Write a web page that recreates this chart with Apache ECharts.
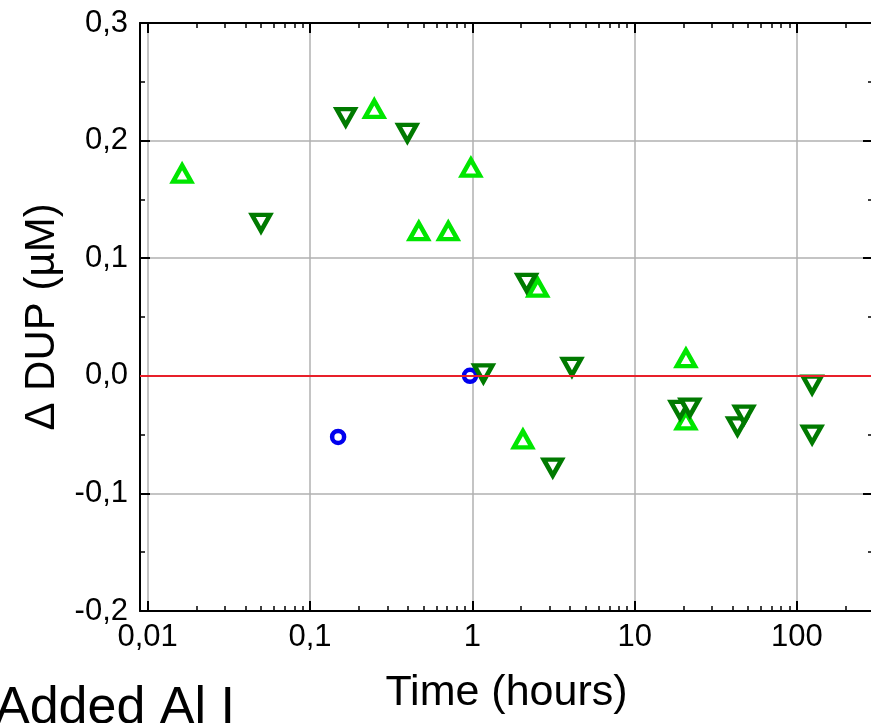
<!DOCTYPE html>
<html>
<head>
<meta charset="utf-8">
<script src="https://cdn.jsdelivr.net/npm/echarts@6/dist/echarts.min.js"></script>
<style>
  html, body { margin: 0; padding: 0; background: #ffffff; }
  #chart { width: 871px; height: 723px; }
</style>
</head>
<body>
<div id="chart"></div>
<script>
// Time after addition (hours) and change in DUP (µM) for each group
const upTimes    = [0.0163, 0.249, 0.468, 0.711, 0.98, 2.05, 2.53, 20.7, 20.7];
const upValues   = [0.172, 0.227, 0.123, 0.123, 0.177, -0.054, 0.075, 0.015, -0.038];

const downTimes  = [0.0499, 0.166, 0.398, 1.17, 2.16, 3.13, 4.11, 19.0, 21.9, 43.0, 47.2, 124, 124];
const downValues = [0.130, 0.220, 0.2065, 0.002, 0.079, -0.078, 0.0075, -0.029, -0.027, -0.043, -0.033, -0.0076, -0.050];

const circleTimes  = [0.149, 0.968];
const circleValues = [-0.052, 0.0];

// Axis ticks and their printed labels (decimal comma)
const xTickValues = [0.01, 0.1, 1, 10, 100];
const xTickLabels = ['0,01', '0,1', '1', '10', '100'];
const yTickValues = [-0.2, -0.1, 0.0, 0.1, 0.2, 0.3];
const yTickLabels = ['-0,2', '-0,1', '0,0', '0,1', '0,2', '0,3'];

const referenceLevel = 0;

const xMin = 0.00897, xMax = 294;
const yMin = -0.2, yMax = 0.3;

const FONT = "'Liberation Sans', Arial, sans-serif";

function pairs(xs, ys) { return xs.map((x, i) => [x, ys[i]]); }

function xLabel(v) {
  for (let i = 0; i < xTickValues.length; i++) {
    if (Math.abs(Math.log10(v) - Math.log10(xTickValues[i])) < 1e-6) return xTickLabels[i];
  }
  return '';
}
function yLabel(v) {
  for (let i = 0; i < yTickValues.length; i++) {
    if (Math.abs(v - yTickValues[i]) < 1e-9) return yTickLabels[i];
  }
  return '';
}

const axisLine = { show: true, onZero: false, lineStyle: { color: '#000', width: 2 } };
const majorTick = { show: true, inside: true, length: 10, lineStyle: { color: '#000', width: 2 } };
const minorTick = (n) => ({ show: true, splitNumber: n, length: 5, lineStyle: { color: '#000', width: 1.5 } });
const grid = { show: true, lineStyle: { color: '#b0b0b0', width: 1.5 } };

const chart = echarts.init(document.getElementById('chart'), null, { renderer: 'canvas' });

chart.setOption({
  animation: false,
  backgroundColor: '#ffffff',
  grid: {
    left: 140, top: 23, width: 733, height: 588,
    containLabel: false,
    outerBoundsMode: 'none'
  },
  xAxis: [
    {
      type: 'log', logBase: 10, min: xMin, max: xMax, position: 'bottom',
      axisLine: axisLine, axisTick: majorTick, minorTick: minorTick(9),
      splitLine: grid,
      axisLabel: { formatter: xLabel, fontFamily: FONT, fontSize: 31, color: '#000', margin: 11,
                   showMinLabel: true, showMaxLabel: true, hideOverlap: false },
      name: 'Time (hours)', nameLocation: 'middle', nameGap: 61,
      nameTextStyle: { fontFamily: FONT, fontSize: 43, color: '#000' }
    },
    {
      type: 'log', logBase: 10, min: xMin, max: xMax, position: 'top',
      axisLine: axisLine, axisTick: majorTick, minorTick: minorTick(9),
      splitLine: { show: false }, axisLabel: { show: false }
    }
  ],
  yAxis: [
    {
      type: 'value', min: yMin, max: yMax, interval: 0.1, position: 'left',
      axisLine: axisLine, axisTick: majorTick, minorTick: minorTick(2),
      splitLine: grid,
      axisLabel: { formatter: yLabel, fontFamily: FONT, fontSize: 31, color: '#000', margin: 12 },
      name: 'Δ DUP (µM)', nameLocation: 'middle', nameGap: 76,
      nameTextStyle: { fontFamily: FONT, fontSize: 42, color: '#000' }
    },
    {
      type: 'value', min: yMin, max: yMax, interval: 0.1, position: 'right',
      axisLine: axisLine, axisTick: majorTick, minorTick: minorTick(2),
      splitLine: { show: false }, axisLabel: { show: false }
    }
  ],
  series: [
    {
      type: 'scatter', name: 'circles', data: pairs(circleTimes, circleValues),
      symbol: 'circle', symbolSize: 12, z: 3,
      itemStyle: { color: '#ffffff', borderColor: '#0000ee', borderWidth: 4.5, opacity: 1 }
    },
    {
      type: 'scatter', name: 'up', data: pairs(upTimes, upValues),
      symbol: 'triangle', symbolSize: [18, 16], z: 4,
      itemStyle: { color: '#ffffff', borderColor: '#00e600', borderWidth: 4.5, opacity: 1 }
    },
    {
      type: 'scatter', name: 'down', data: pairs(downTimes, downValues),
      symbol: 'triangle', symbolRotate: 180, symbolSize: [18, 16], z: 5,
      itemStyle: { color: '#ffffff', borderColor: '#007a00', borderWidth: 4.5, opacity: 1 }
    },
    {
      type: 'line', name: 'reference', data: [], z: 10,
      markLine: {
        silent: true, symbol: ['none', 'none'], label: { show: false }, z: 10,
        lineStyle: { color: '#e8202a', width: 2, type: 'solid' },
        data: [{ yAxis: referenceLevel }]
      }
    }
  ],
  graphic: [
    {
      type: 'text', left: -5, top: 683, z: 20,
      style: { text: 'Added Al I', fontFamily: FONT, fontSize: 52, fill: '#000' }
    }
  ]
});
</script>
</body>
</html>
